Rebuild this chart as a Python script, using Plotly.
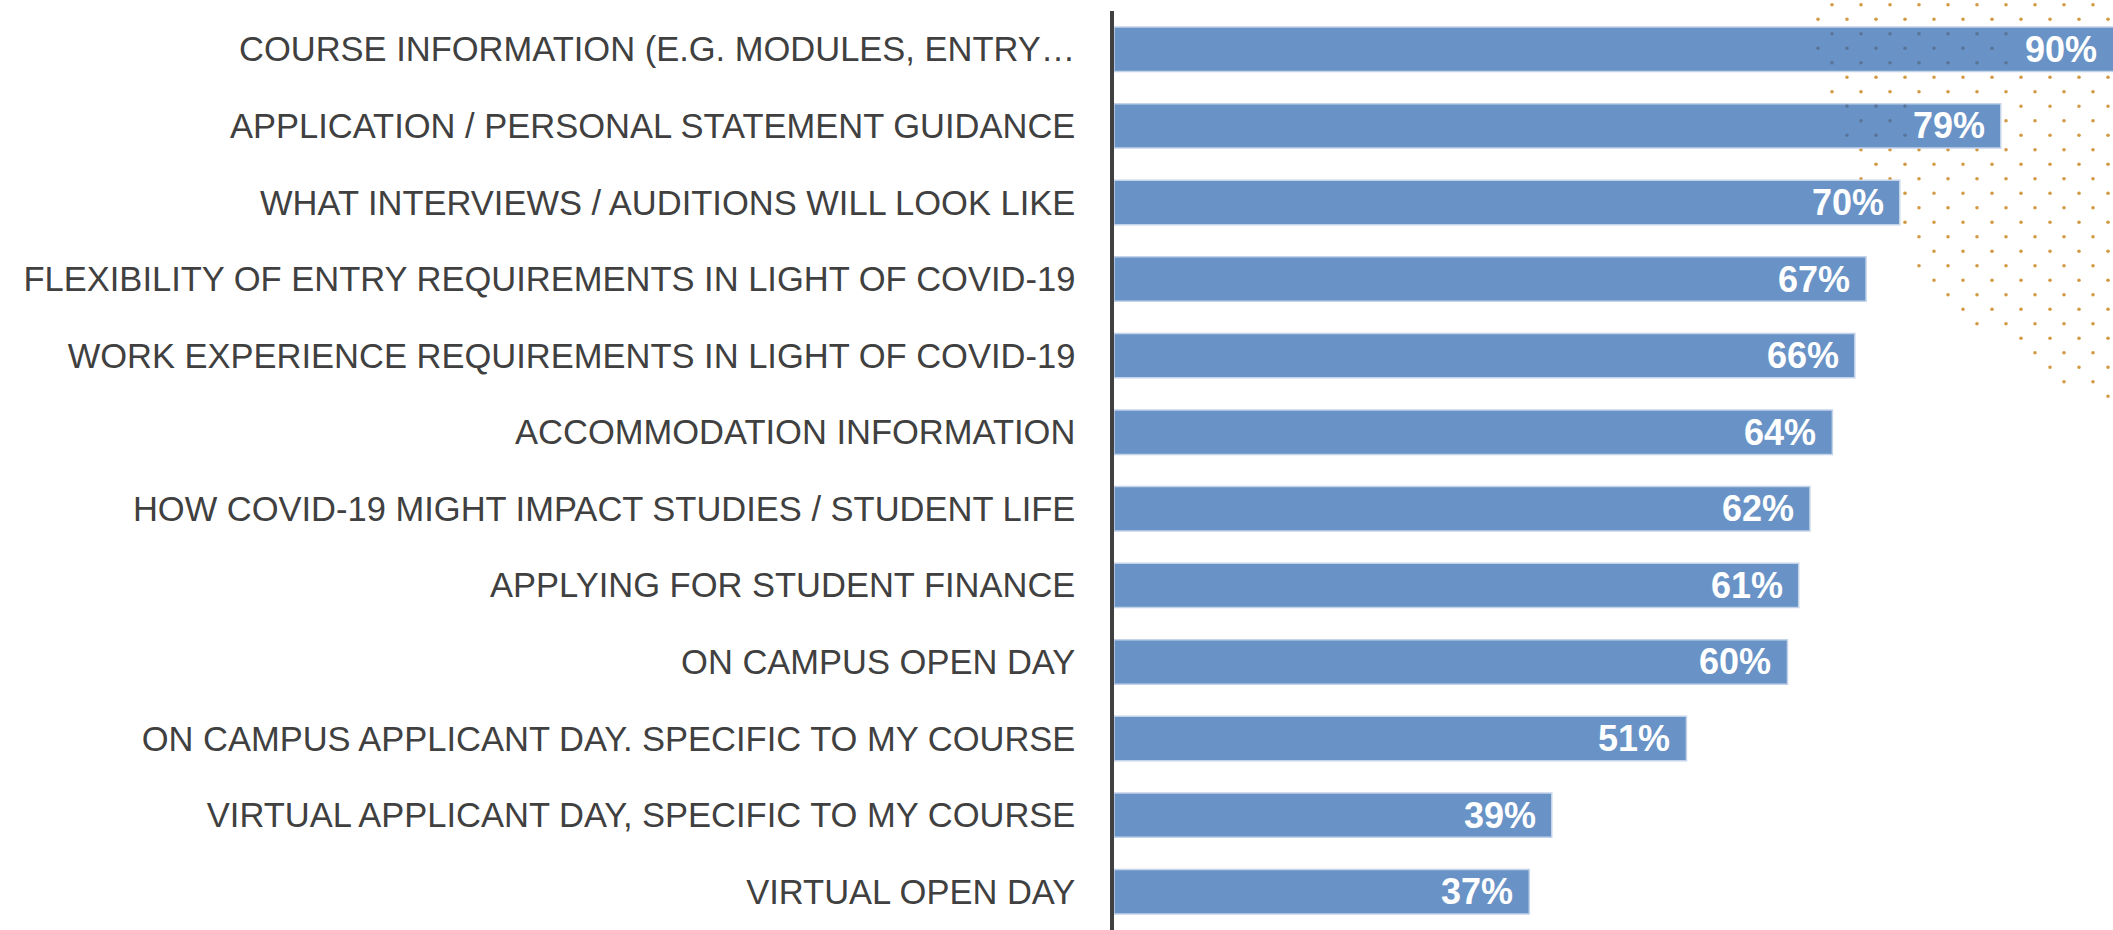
import plotly.graph_objects as go

categories = [
    "COURSE INFORMATION (E.G. MODULES, ENTRY…",
    "APPLICATION / PERSONAL STATEMENT GUIDANCE",
    "WHAT INTERVIEWS / AUDITIONS WILL LOOK LIKE",
    "FLEXIBILITY OF ENTRY REQUIREMENTS IN LIGHT OF COVID-19",
    "WORK EXPERIENCE REQUIREMENTS IN LIGHT OF COVID-19",
    "ACCOMMODATION INFORMATION",
    "HOW COVID-19 MIGHT IMPACT STUDIES / STUDENT LIFE",
    "APPLYING FOR STUDENT FINANCE",
    "ON CAMPUS OPEN DAY",
    "ON CAMPUS APPLICANT DAY. SPECIFIC TO MY COURSE",
    "VIRTUAL APPLICANT DAY, SPECIFIC TO MY COURSE",
    "VIRTUAL OPEN DAY",
]
values = [90, 79, 70, 67, 66, 64, 62, 61, 60, 51, 39, 37]

W, H = 2113, 930
ML, MT = 1114, 11
XMAX = 89.0
BAR_W = 0.58
PW, PH = W - ML, H - MT
LABEL_FONT = "Liberation Sans, Arial, sans-serif"
n_cat = len(categories)

fig = go.Figure()
fig.add_trace(go.Bar(
    x=values, y=categories, orientation="h",
    width=BAR_W,
    marker=dict(color="#6993C6", line=dict(color="#C3D4EA", width=1.5)),
    hoverinfo="skip",
))

# value labels, placed at the visible end of each bar
annotations = []
for cat, v in zip(categories, values):
    annotations.append(dict(
        x=min(v, XMAX), y=cat, xref="x", yref="y",
        text=f"<b>{v}%</b>", showarrow=False,
        xanchor="right", yanchor="middle", xshift=-14,
        font=dict(family=LABEL_FONT, size=36, color="white"),
    ))

# decorative dotted pattern (top-right), staggered grid
row_start = [0, 0, 0, 0, 0, 1, 0, 1, 1, 1, 1, 2, 1, 2, 2, 3, 3, 4, 3, 4, 4, 5, 5, 7, 7, 8, 8, 10]
shapes = []
cat_h = PH / n_cat
r = 1.8
for ri, k0 in enumerate(row_start):
    py = 4.7 + 14.5 * ri
    x_base = 1832 if ri % 2 == 0 else 1818
    k = k0
    while True:
        px = x_base + 29 * k
        if px > W - 2:
            break
        k += 1
        inside = False
        near_label = False
        for i, v in enumerate(values):
            cy = MT + cat_h * (i + 0.5)
            if abs(py - cy) <= cat_h * BAR_W / 2:
                bx = ML + min(v, XMAX) / XMAX * PW
                if px <= bx:
                    inside = True
                    near_label = px > bx - 95
        if inside and near_label:
            continue
        color = "#5A7497" if inside else "#D39A45"
        shapes.append(dict(
            type="circle", xref="paper", yref="paper",
            x0=(px - r - ML) / PW, x1=(px + r - ML) / PW,
            y0=(H - py - r) / PH, y1=(H - py + r) / PH,
            fillcolor=color, line=dict(width=0),
            layer="above" if inside else "below",
        ))

fig.update_layout(
    width=W, height=H,
    margin=dict(l=ML, r=0, t=MT, b=0),
    paper_bgcolor="white", plot_bgcolor="rgba(0,0,0,0)",
    showlegend=False,
    shapes=shapes,
    annotations=annotations,
    xaxis=dict(range=[0, XMAX], visible=False, fixedrange=True, automargin=False),
    yaxis=dict(
        range=[n_cat - 0.5, -0.5],
        automargin=False,
        showline=True, linecolor="#404040", linewidth=3.5,
        showgrid=False, zeroline=False,
        ticks="", ticklabelstandoff=28,
        tickfont=dict(family=LABEL_FONT, size=34.5, color="#404040"),
        fixedrange=True,
    ),
)

fig.write_html("out.html", config={"displayModeBar": False},
               post_script="document.body.style.margin='0';")
